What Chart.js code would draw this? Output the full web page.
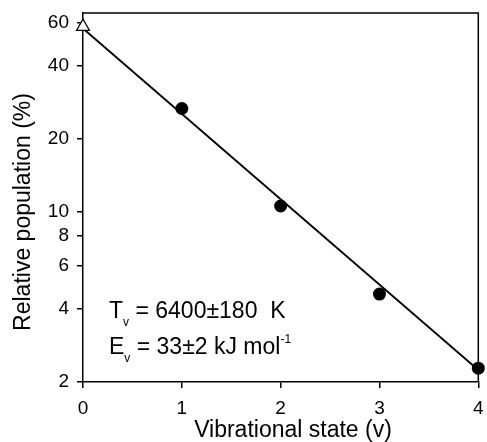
<!DOCTYPE html>
<html>
<head>
<meta charset="utf-8">
<script src="https://cdn.jsdelivr.net/npm/chart.js@4/dist/chart.umd.min.js"></script>
<style>
  html, body { margin: 0; padding: 0; background: #fff; }
  #wrap { width: 487px; height: 442px; }
</style>
</head>
<body>
<div id="wrap"><canvas id="chart" width="487" height="442"></canvas></div>
<script>
// measured points, v = 1..4
const states = [1, 2, 3, 4];
const population = [26.7, 10.6, 4.6, 2.28];
// v = 0 (open triangle)
const groundState = [0];
const groundPop = [58];
// fitted line end points
const fitStates = [0, 4];
const fitPop = [57, 2.24];
const yTicks = [2, 4, 6, 8, 10, 20, 40, 60];
const xTicks = [0, 1, 2, 3, 4];

const FONT = "'Liberation Sans', Arial, Helvetica, sans-serif";

// box round the plot, axis titles (placed by hand, they sit off-centre) and the Tv / Ev text
const extras = {
    id: "extras",
    afterDraw(c) {
        const ctx = c.ctx;
        const a = c.chartArea;
        ctx.save();
        ctx.strokeStyle = "#000";
        ctx.lineWidth = 1.5;
        ctx.beginPath();
        ctx.moveTo(a.left, a.top);
        ctx.lineTo(a.right, a.top);
        ctx.lineTo(a.right, a.bottom);
        ctx.stroke();

        ctx.fillStyle = "#000";
        ctx.textBaseline = "alphabetic";
        ctx.font = "23px " + FONT;
        ctx.textAlign = "center";
        ctx.fillText("Vibrational state (v)", a.left + 210, 437);
        ctx.save();
        ctx.translate(30, a.top + 199);
        ctx.rotate(-Math.PI / 2);
        ctx.fillText("Relative population (%)", 0, 0);
        ctx.restore();

        ctx.textAlign = "left";
        const x0 = a.left + 26;
        function line(y, main, rest, sup) {
            ctx.font = "23px " + FONT;
            ctx.fillText(main, x0, y);
            let x = x0 + ctx.measureText(main).width;
            ctx.font = "12px " + FONT;
            ctx.fillText("v", x, y + 8);
            x += ctx.measureText("v").width;
            ctx.font = "23px " + FONT;
            ctx.fillText(rest, x, y);
            if (sup) {
                x += ctx.measureText(rest).width;
                ctx.font = "12px " + FONT;
                ctx.fillText(sup, x, y - 11);
            }
        }
        line(a.top + 305, "T", " = 6400\u00b1180  K");
        line(a.top + 341, "E", " = 33\u00b12 kJ mol", "-1");
        ctx.restore();
    }
};

new Chart(document.getElementById("chart").getContext("2d"), {
    type: "scatter",
    data: {
        datasets: [
            {
                label: "fit",
                type: "line",
                data: fitStates.map((v, i) => ({ x: v, y: fitPop[i] })),
                borderColor: "#000",
                borderWidth: 1.8,
                pointRadius: 0,
                fill: false,
                clip: false,
                order: 3
            },
            {
                label: "v=0",
                data: groundState.map((v, i) => ({ x: v, y: groundPop[i] })),
                pointStyle: "triangle",
                pointRadius: 7.5,
                backgroundColor: "#fff",
                borderColor: "#000",
                borderWidth: 1.2,
                clip: false,
                order: 1
            },
            {
                label: "measured",
                data: states.map((v, i) => ({ x: v, y: population[i] })),
                pointStyle: "circle",
                pointRadius: 6.5,
                backgroundColor: "#000",
                borderColor: "#000",
                borderWidth: 0,
                clip: false,
                order: 2
            }
        ]
    },
    options: {
        responsive: false,
        animation: false,
        events: [],
        layout: { padding: { top: 13, right: 3, left: 0, bottom: 0 } },
        plugins: { legend: { display: false }, tooltip: { enabled: false } },
        scales: {
            x: {
                type: "linear",
                min: 0,
                max: 4,
                afterBuildTicks: s => { s.ticks = xTicks.map(v => ({ value: v })); },
                afterFit: s => { s.height = 60; s.paddingLeft = 0; s.paddingRight = 0; },
                grid: { drawOnChartArea: false, drawTicks: true, tickLength: 6, color: "#000", lineWidth: 1.5 },
                border: { color: "#000", width: 1.5 },
                ticks: { color: "#000", font: { family: FONT, size: 19 }, padding: 9, maxRotation: 0 },
                title: { display: false }
            },
            y: {
                type: "logarithmic",
                min: 2,
                max: 66,
                afterBuildTicks: s => { s.ticks = yTicks.map(v => ({ value: v })); },
                afterFit: s => { s.width = 83; s.paddingTop = 0; s.paddingBottom = 0; },
                grid: { drawOnChartArea: false, drawTicks: true, tickLength: 6, color: "#000", lineWidth: 1.5 },
                border: { color: "#000", width: 1.5 },
                ticks: { color: "#000", font: { family: FONT, size: 19 }, padding: 8, callback: v => String(v) },
                title: { display: false }
            }
        }
    },
    plugins: [extras]
});
</script>
</body>
</html>
